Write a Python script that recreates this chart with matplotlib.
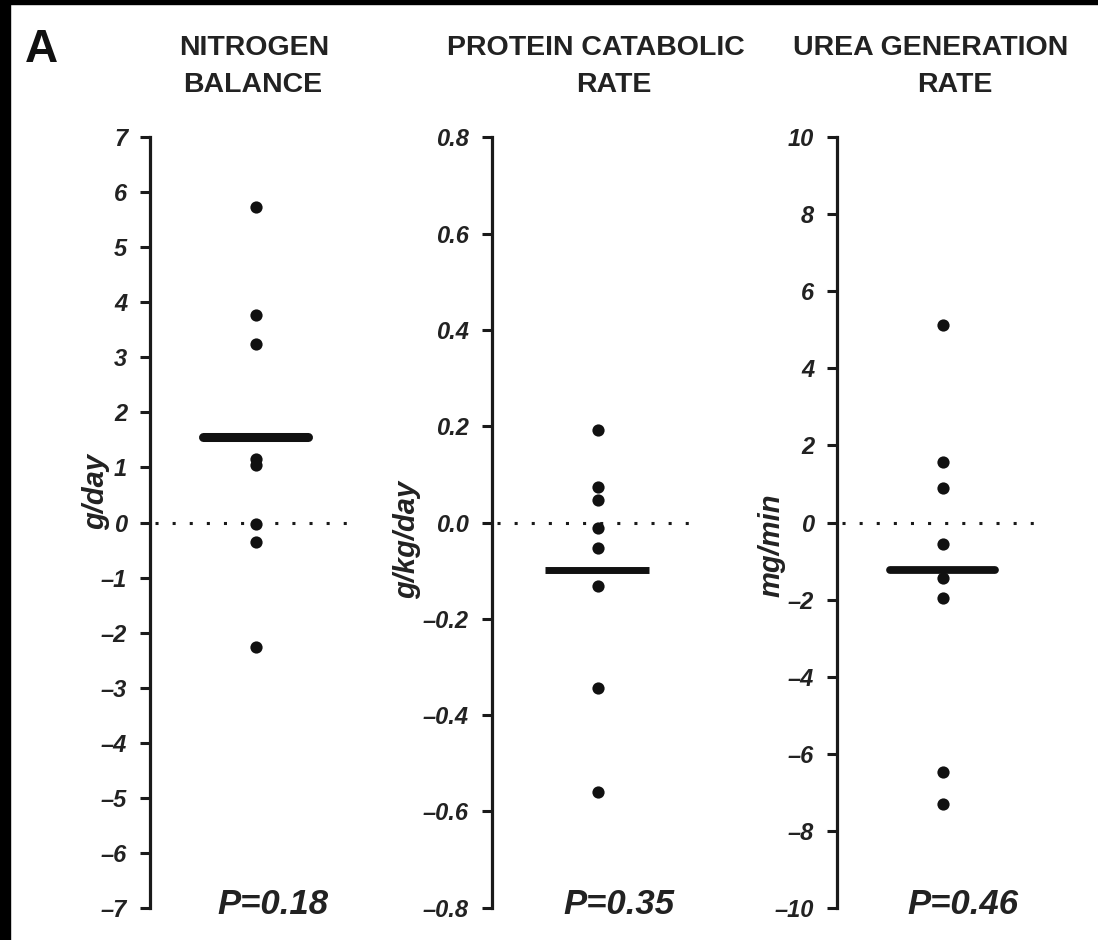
import matplotlib
matplotlib.use("Agg")
import matplotlib.pyplot as plt
from matplotlib.patches import Rectangle

plt.rcParams['font.family'] = ['Liberation Sans', 'DejaVu Sans']

# ---- data ----
nb_values = [5.73, 3.77, 3.25, 1.15, 1.05, -0.02, -0.35, -2.27]
nb_mean = 1.55
pcr_values = [0.193, 0.073, 0.047, -0.012, -0.053, -0.131, -0.343, -0.559]
pcr_mean = -0.098
ugr_values = [5.14, 1.56, 0.89, -0.55, -1.43, -1.96, -6.47, -7.31]
ugr_mean = -1.24

nb_ticks = list(range(-7, 8))
nb_ticklabels = [str(t).replace('-', '\u2013') for t in nb_ticks]
pcr_ticks = [-0.8, -0.6, -0.4, -0.2, 0.0, 0.2, 0.4, 0.6, 0.8]
pcr_ticklabels = ['\u20130.8', '\u20130.6', '\u20130.4', '\u20130.2', '0.0', '0.2', '0.4', '0.6', '0.8']
ugr_ticks = list(range(-10, 11, 2))
ugr_ticklabels = [str(t).replace('-', '\u2013') for t in ugr_ticks]

titles = [("NITROGEN", "BALANCE"), ("PROTEIN CATABOLIC", "RATE"), ("UREA GENERATION", "RATE")]
ylabels = ["g/day", "g/kg/day", "mg/min"]
pvalues = ["P=0.18", "P=0.35", "P=0.46"]

W, H = 1098, 940
fig = plt.figure(figsize=(W / 100, H / 100), dpi=100)
fig.patch.set_facecolor('white')

def fx(x):
    return x / W

def fy(y):
    return 1 - y / H

# black frame strips (top and left)
fig.patches.append(Rectangle((0, fy(4)), 1, 4 / H, transform=fig.transFigure, color='black', zorder=10))
fig.patches.append(Rectangle((0, 0), fx(10), 1, transform=fig.transFigure, color='black', zorder=10))

panels = [
    dict(left=150, vals=nb_values, mean=nb_mean, ticks=nb_ticks, tl=nb_ticklabels, lim=(-7, 7),
         mlw=6.5, cap='round', title_x=(254, 253), ylab=(96, 492), p=(273, 904)),
    dict(left=491.5, vals=pcr_values, mean=pcr_mean, ticks=pcr_ticks, tl=pcr_ticklabels, lim=(-0.8, 0.8),
         mlw=5.0, cap='butt', title_x=(596, 614), ylab=(407, 540), p=(619, 904)),
    dict(left=837, vals=ugr_values, mean=ugr_mean, ticks=ugr_ticks, tl=ugr_ticklabels, lim=(-10, 10),
         mlw=5.6, cap='round', title_x=(931, 955), ylab=(771, 545), p=(963, 904)),
]

top_px, bot_px = 137.3, 907.7
aw = 212
for i, pnl in enumerate(panels):
    ax = fig.add_axes([fx(pnl['left']), fy(bot_px), aw / W, (bot_px - top_px) / H])
    ax.set_xlim(0, 1)
    ax.set_ylim(*pnl['lim'])
    ax.patch.set_alpha(0)
    for s in ['top', 'right', 'bottom']:
        ax.spines[s].set_visible(False)
    ax.spines['left'].set_linewidth(2.3)
    ax.spines['left'].set_color('#1a1a1a')
    ax.set_xticks([])
    ax.set_yticks(pnl['ticks'])
    ax.set_yticklabels(pnl['tl'], fontsize=17, fontweight='bold', fontstyle='italic', color='#222222')
    ax.tick_params(axis='y', length=7.5, width=2.2, pad=9, color='#1a1a1a')
    # zero dotted line
    ax.plot([0.024, 0.93], [0, 0], color='#1a1a1a', lw=2.2, ls=(0, (1, 4.6)), dash_capstyle='butt')
    # points
    ax.plot([0.5] * len(pnl['vals']), pnl['vals'], 'o', color='#111111', ms=8.8, mew=0, clip_on=False)
    # mean bar
    ax.plot([0.25, 0.745], [pnl['mean'], pnl['mean']], color='#111111', lw=pnl['mlw'],
            solid_capstyle=pnl['cap'])
    # titles
    t1, t2 = titles[i]
    fig.text(fx(pnl['title_x'][0]), fy(48), t1, ha='center', va='center', fontsize=20.5,
             fontweight='bold', color='#222222')
    fig.text(fx(pnl['title_x'][1]), fy(85), t2, ha='center', va='center', fontsize=20.5,
             fontweight='bold', color='#222222')
    # y label
    fig.text(fx(pnl['ylab'][0]), fy(pnl['ylab'][1]), ylabels[i], rotation=90, ha='center', va='center',
             fontsize=21, fontweight='bold', fontstyle='italic', color='#222222')
    # p value
    fig.text(fx(pnl['p'][0]), fy(pnl['p'][1]), pvalues[i], ha='center', va='center', fontsize=25,
             fontweight='bold', fontstyle='italic', color='#222222')

fig.text(fx(41), fy(50), "A", ha='center', va='center', fontsize=33, fontweight='bold', color='#111111')

fig.savefig("out.png", dpi=100, facecolor='white')
